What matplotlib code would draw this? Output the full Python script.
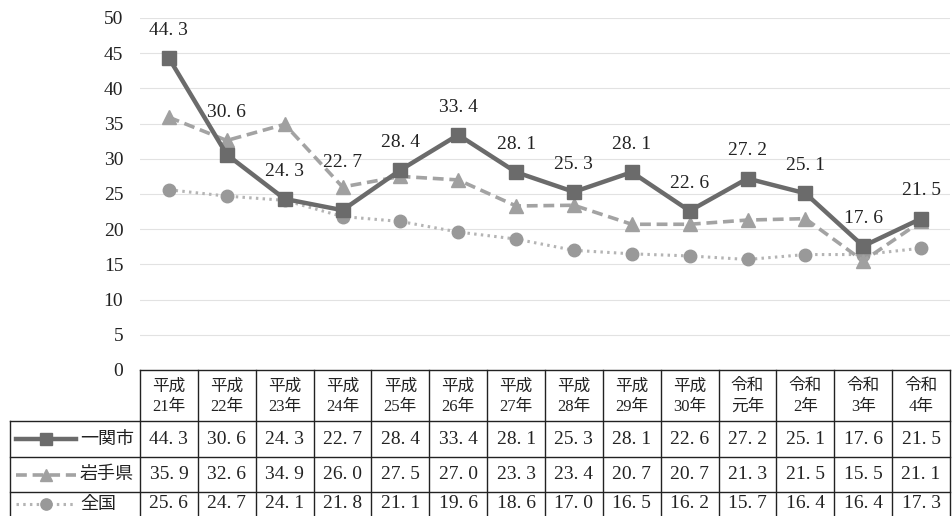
import matplotlib
matplotlib.use("Agg")
import matplotlib.pyplot as plt

# 年度ラベルと各系列の値
years = ["平成\n21年", "平成\n22年", "平成\n23年", "平成\n24年", "平成\n25年",
         "平成\n26年", "平成\n27年", "平成\n28年", "平成\n29年", "平成\n30年",
         "令和\n元年", "令和\n2年", "令和\n3年", "令和\n4年"]
ichinoseki = [44.3, 30.6, 24.3, 22.7, 28.4, 33.4, 28.1, 25.3, 28.1, 22.6, 27.2, 25.1, 17.6, 21.5]
iwate = [35.9, 32.6, 34.9, 26.0, 27.5, 27.0, 23.3, 23.4, 20.7, 20.7, 21.3, 21.5, 15.5, 21.1]
zenkoku = [25.6, 24.7, 24.1, 21.8, 21.1, 19.6, 18.6, 17.0, 16.5, 16.2, 15.7, 16.4, 16.4, 17.3]
series_names = ["一関市", "岩手県", "全国"]
yticks = [0, 5, 10, 15, 20, 25, 30, 35, 40, 45, 50]

plt.rcParams["font.family"] = ["Liberation Serif", "Noto Sans CJK JP"]

W, H = 952, 516
fig = plt.figure(figsize=(W / 100, H / 100), dpi=100)
ax = fig.add_axes([140 / W, 1 - 370 / H, 810 / W, 352 / H])


def fmt(v):
    return f"{v:.1f}".replace(".", ". ")


styles = [
    dict(color="#6b6b6b", lw=3.2, ls="-", marker="s", ms=10, mfc="#6b6b6b", mec="#6b6b6b", zorder=4),
    dict(color="#a3a3a3", lw=2.6, ls=(0, (3, 1.6)), marker="^", ms=10, mfc="#a0a0a0", mec="#a0a0a0", zorder=3),
    dict(color="#b4b4b4", lw=2.2, ls=(0, (0.8, 1.4)), marker="o", ms=9, mfc="#999999", mec="#999999", zorder=2),
]
data = [ichinoseki, iwate, zenkoku]
x = list(range(len(years)))
for vals, st in zip(data, styles):
    ax.plot(x, vals, **st)

# 一関市のみデータラベル（重なり回避で一部は上にずらす）
extra_offset = {1: 10, 3: 14}
for i, v in enumerate(ichinoseki):
    dy = 20 + extra_offset.get(i, 0)
    ax.annotate(fmt(v), (i, v), xytext=(0, dy), textcoords="offset points",
                ha="center", va="center", fontsize=14, color="#222222")

ax.set_xlim(-0.5, len(years) - 0.5)
ax.set_ylim(0, 50)
ax.set_yticks(yticks)
ax.set_yticklabels([str(t) for t in yticks], fontsize=14, color="#222222")
ax.set_xticks([])
ax.tick_params(axis="y", length=0, pad=12)
for s in ax.spines.values():
    s.set_visible(False)
ax.grid(axis="y", color="#e2e2e2", lw=0.8)
ax.set_axisbelow(True)

# データテーブル（ピクセル座標で描画）
tab = fig.add_axes([0, 0, 1, 1])
tab.set_xlim(0, W)
tab.set_ylim(H, 0)
tab.axis("off")


def px(xv):
    return ax.transData.transform((xv, 0))[0]


n = len(years)
left_px = 10
x_first = px(-0.5)
x_last = px(n - 0.5)
row_y = [370, 421, 457, 492, 516]
lc = "#222222"
lw = 1.0

tab.plot([x_first, x_last], [row_y[0], row_y[0]], color=lc, lw=lw)
for yy in row_y[1:4]:
    tab.plot([left_px, x_last], [yy, yy], color=lc, lw=lw)
tab.plot([left_px, left_px], [row_y[1], row_y[4]], color=lc, lw=lw)
for i in range(n + 1):
    xx = px(i - 0.5)
    tab.plot([xx, xx], [row_y[0], row_y[4]], color=lc, lw=lw)

for i, lab in enumerate(years):
    tab.text(px(i), (row_y[0] + row_y[1]) / 2 + 1, lab, ha="center", va="center",
             fontsize=12, linespacing=1.35, color="#222222")

for r, (vals, st, name) in enumerate(zip(data, styles, series_names)):
    yc = (row_y[r + 1] + row_y[r + 2]) / 2
    for i, v in enumerate(vals):
        tab.text(px(i), yc, fmt(v), ha="center", va="center", fontsize=14, color="#222222")
    tab.plot([16, 76], [yc, yc], color=st["color"], lw=st["lw"], ls=st["ls"])
    tab.plot([46], [yc], marker=st["marker"], ms=st["ms"] * 0.9, color=st["mfc"], ls="none")
    tab.text(80, yc, name, ha="left", va="center", fontsize=13, color="#222222")

fig.savefig("out.png", dpi=100)
